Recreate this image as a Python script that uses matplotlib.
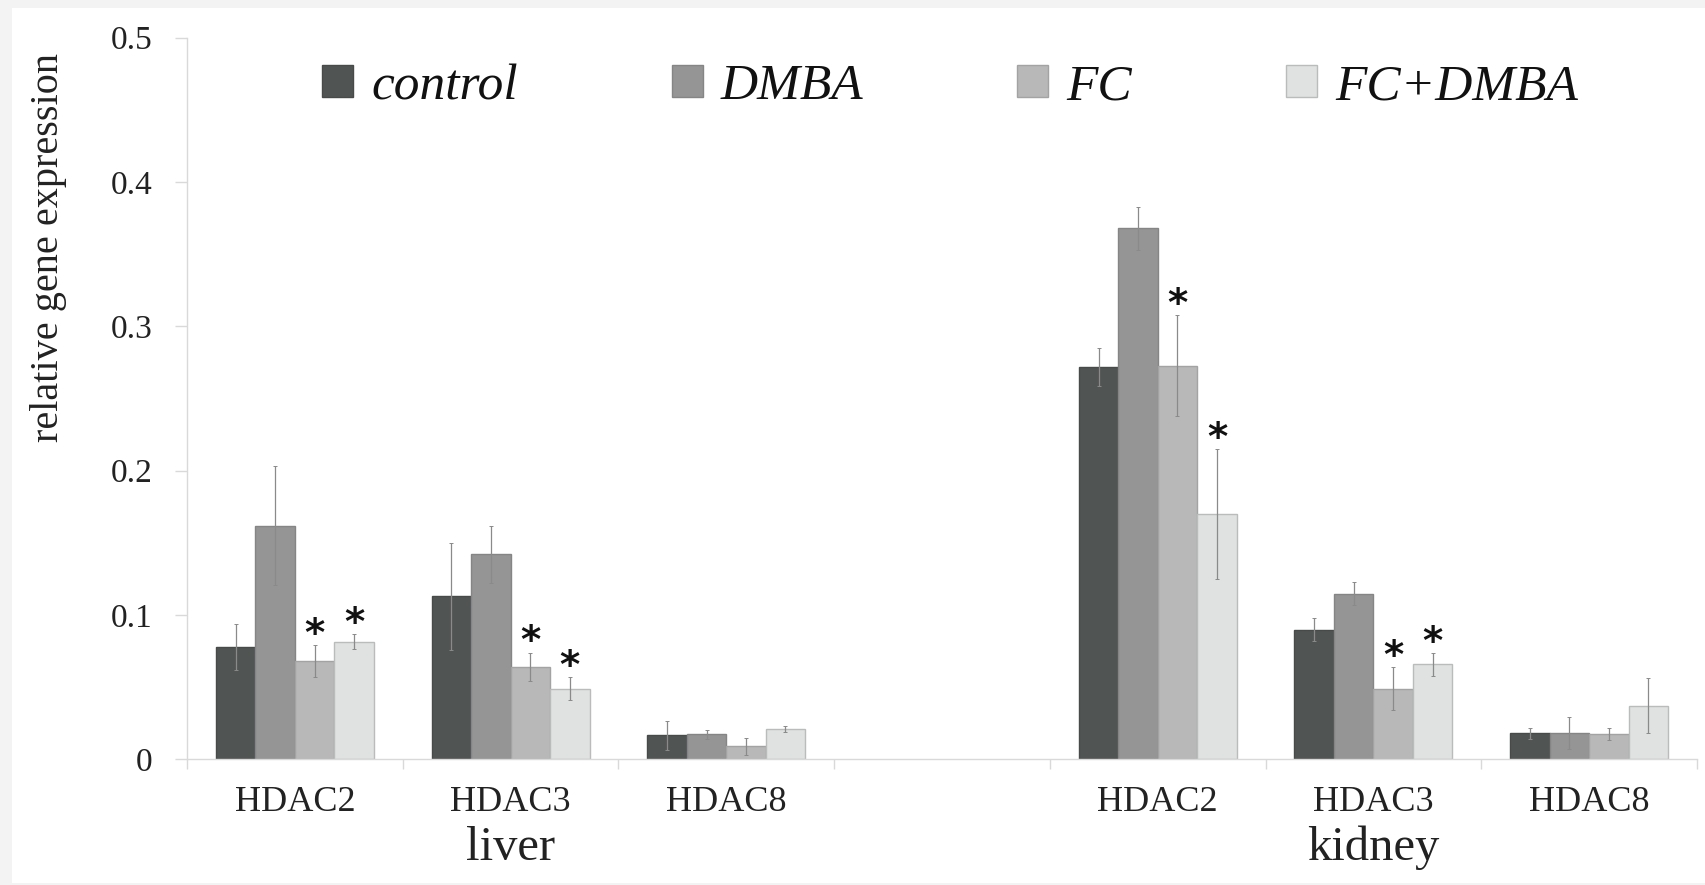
import matplotlib
matplotlib.use("Agg")
import matplotlib.pyplot as plt
from matplotlib.patches import Rectangle, Patch
import numpy as np

# ---- data ----
categories = ["HDAC2", "HDAC3", "HDAC8", "", "HDAC2", "HDAC3", "HDAC8"]
groups = ["liver", "kidney"]
series = ["control", "DMBA", "FC", "FC+DMBA"]

control = [0.078, 0.113, 0.0166, np.nan, 0.272, 0.0899, 0.018]
dmba = [0.162, 0.142, 0.0174, np.nan, 0.368, 0.1148, 0.018]
fc = [0.068, 0.064, 0.009, np.nan, 0.2727, 0.049, 0.0174]
fc_dmba = [0.0816, 0.049, 0.021, np.nan, 0.170, 0.0657, 0.037]

control_err = [0.016, 0.037, 0.010, np.nan, 0.013, 0.008, 0.004]
dmba_err = [0.041, 0.020, 0.003, np.nan, 0.015, 0.008, 0.011]
fc_err = [0.011, 0.010, 0.006, np.nan, 0.035, 0.015, 0.004]
fc_dmba_err = [0.005, 0.008, 0.002, np.nan, 0.045, 0.008, 0.019]

# significance marks: (category index, series index)
significant = [(0, 2), (0, 3), (1, 2), (1, 3), (4, 2), (4, 3), (5, 2), (5, 3)]

values = [control, dmba, fc, fc_dmba]
errors = [control_err, dmba_err, fc_err, fc_dmba_err]
colors = ["#505453", "#959595", "#b8b8b8", "#dfe2e1"]
edges = ["#474a49", "#858585", "#a3a3a3", "#b9bcbb"]

W, H = 1706, 885
fig = plt.figure(figsize=(W / 100, H / 100), dpi=100)
fig.patch.set_facecolor("#f3f3f3")
bg = Rectangle((12 / W, 2 / H), (W - 12) / W, (H - 10) / H,
               transform=fig.transFigure, facecolor="white",
               edgecolor="none", zorder=-10)
fig.patches.append(bg)

ax = fig.add_axes([187 / W, 1 - 759.3 / H, (1697 - 187) / W, (759.3 - 37.7) / H])
ax.set_facecolor("none")
ax.set_zorder(5)

serif = ["Liberation Serif", "DejaVu Serif"]

x = np.arange(len(categories))
bw = 0.183
for i, (vals, errs) in enumerate(zip(values, errors)):
    pos = x + (i - 1.5) * bw
    ax.bar(pos, vals, width=bw, color=colors[i], edgecolor=edges[i],
           linewidth=1.0, zorder=2, label=series[i])
    ax.errorbar(pos, vals, yerr=errs, fmt="none", ecolor="#8a8a8a",
                elinewidth=0.9, capsize=1.2, capthick=0.7, zorder=3)

for ci, si in significant:
    xp = x[ci] + (si - 1.5) * bw
    top = values[si][ci] + errors[si][ci]
    ax.annotate("*", xy=(xp, top), xytext=(0, -0.5), textcoords="offset points",
                ha="center", va="baseline", fontsize=28, fontweight="bold",
                family="DejaVu Sans", color="#111111", zorder=4)

ax.set_xlim(-0.5, len(categories) - 0.5)
ax.set_ylim(0, 0.5)
ax.set_yticks([0, 0.1, 0.2, 0.3, 0.4, 0.5])
ax.set_yticklabels(["0", "0.1", "0.2", "0.3", "0.4", "0.5"], family=serif,
                   fontsize=24, color="#222222")
ax.set_xticks(x)
ax.set_xticklabels(categories, family=serif, fontsize=26, color="#222222")
ax.set_xticks(np.arange(-0.5, len(categories), 1.0), minor=True)
ax.tick_params(axis="x", which="major", length=0, pad=19)
ax.tick_params(axis="x", which="minor", length=7, color="#d9d9d9", width=1)
ax.tick_params(axis="y", length=9, color="#d9d9d9", width=1, pad=16)

for s in ["top", "right"]:
    ax.spines[s].set_visible(False)
for s in ["left", "bottom"]:
    ax.spines[s].set_color("#d9d9d9")
    ax.spines[s].set_linewidth(1)

# group labels
for gx, name in zip([1, 5], groups):
    ax.text(gx, -0.1395, name, ha="center", va="baseline", family=serif,
            fontsize=35, color="#222222", transform=ax.get_xaxis_transform())

fig.text(49 / W, 1 - 247 / H, "relative gene expression", rotation=90,
         ha="center", va="center", family=serif, fontsize=29, color="#222222")

handles = [Patch(facecolor=colors[i], edgecolor=edges[i], label=series[i])
           for i in range(4)]
fig.legend(handles=handles, loc="center", bbox_to_anchor=(950 / W, 1 - 87 / H),
           ncol=4, frameon=False, prop={"family": serif, "style": "italic", "size": 37},
           handlelength=0.6, handleheight=0.6, handletextpad=0.35,
           columnspacing=3.0, labelcolor="#111111")

fig.savefig("out.png", dpi=100, facecolor=fig.get_facecolor())
